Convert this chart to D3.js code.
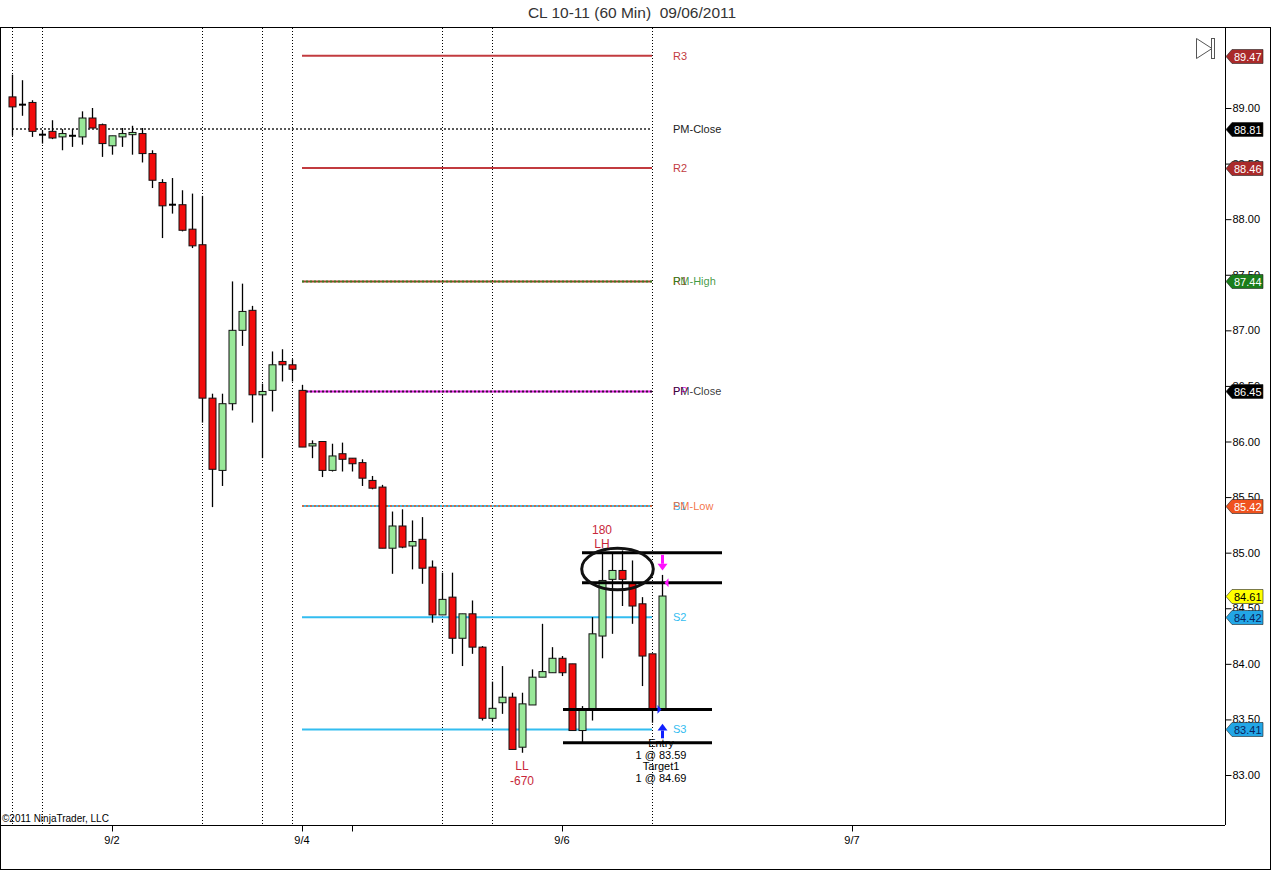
<!DOCTYPE html>
<html>
<head>
<meta charset="utf-8">
<script src="https://cdn.jsdelivr.net/npm/d3@7"></script>
<style>
    html, body { margin: 0; padding: 0; background: #fff; }
    svg text { font-family: Arial, "Liberation Sans", sans-serif; }
</style>
</head>
<body>
<svg id="chart" width="1272" height="871"></svg>
<script>
// 60 min bars, 9/1 evening through 9/6
const opens  = [89.10, 89.03, 89.05, 88.76, 88.79, 88.74, 88.75, 88.74, 88.91, 88.85, 88.66, 88.74, 88.76, 88.77, 88.59, 88.33, 88.13, 88.13, 87.91, 87.77,
                86.39, 85.74, 86.34, 87.00, 87.18, 86.42, 86.46, 86.72, 86.69, 86.46, 85.96, 86.00, 85.74, 85.89, 85.85, 85.81, 85.65, 85.59, 85.04, 85.24,
                85.06, 85.12, 84.87, 84.44, 84.60, 84.23, 84.45, 84.15, 83.51, 83.65, 83.70, 83.25, 83.63, 83.88, 83.92, 84.05, 84.00, 83.40, 83.59, 84.25,
                84.76, 84.84, 84.73, 84.54, 84.09, 83.59];
const highs  = [89.30, 89.25, 89.07, 88.80, 88.89, 88.81, 88.81, 88.97, 89.00, 88.86, 88.75, 88.82, 88.84, 88.82, 88.62, 88.36, 88.37, 88.26, 88.23, 88.21,
                86.43, 86.43, 87.44, 87.42, 87.22, 86.52, 86.81, 86.83, 86.74, 86.51, 86.01, 86.00, 85.98, 85.99, 85.85, 85.84, 85.69, 85.61, 85.37, 85.39,
                85.29, 85.32, 84.93, 84.82, 84.82, 84.45, 84.57, 84.16, 83.84, 83.98, 83.74, 83.74, 83.95, 84.36, 84.15, 84.07, 84.00, 83.62, 84.42, 85.00,
                85.00, 85.02, 84.93, 84.60, 84.09, 84.80];
const lows   = [88.75, 88.93, 88.74, 88.68, 88.72, 88.62, 88.65, 88.67, 88.82, 88.56, 88.58, 88.65, 88.58, 88.51, 88.28, 87.83, 88.05, 87.89, 87.74, 86.17,
                85.41, 85.60, 86.28, 86.86, 86.17, 85.85, 86.27, 86.54, 86.54, 85.95, 85.85, 85.68, 85.73, 85.73, 85.73, 85.60, 85.57, 85.04, 84.81, 85.04,
                84.85, 84.72, 84.37, 84.44, 84.09, 83.98, 84.09, 83.49, 83.48, 83.55, 83.23, 83.20, 83.63, 83.88, 83.92, 83.89, 83.40, 83.29, 83.49, 84.05,
                84.27, 84.52, 84.36, 83.80, 83.47, 83.59];
const closes = [89.01, 89.03, 88.79, 88.76, 88.73, 88.77, 88.75, 88.91, 88.82, 88.68, 88.75, 88.77, 88.78, 88.59, 88.35, 88.12, 88.13, 87.90, 87.76, 86.39,
                85.75, 86.34, 87.00, 87.17, 86.42, 86.45, 86.69, 86.69, 86.65, 85.95, 85.98, 85.74, 85.87, 85.84, 85.80, 85.67, 85.58, 85.04, 85.24, 85.05,
                85.10, 84.86, 84.44, 84.58, 84.23, 84.45, 84.15, 83.51, 83.60, 83.70, 83.23, 83.64, 83.88, 83.93, 84.05, 83.92, 83.40, 83.59, 84.27, 84.75,
                84.84, 84.76, 84.52, 84.07, 83.59, 84.61];

// session break bars (dotted verticals)
const sessionBreaks = [0, 3, 19, 25, 28, 43, 48, 64];

// date axis
const dateLabels = ['9/2', '9/4', '', '9/6', '9/7'];
const dateBars = [10, 29, 34, 55, 84];

// price axis ticks
const priceTicks = [83.0, 83.5, 84.0, 84.5, 85.0, 85.5, 86.0, 86.5, 87.0, 87.5, 88.0, 88.5, 89.0];

// pivot / prior day levels
const levelNames  = ['R3', 'R2', 'R1', 'PP', 'S1', 'S2', 'S3'];
const levelValues = [89.47, 88.46, 87.44, 86.45, 85.42, 84.42, 83.41];
const levelColors = ['#c23b3f', '#c23b3f', '#a0442a', '#e020e0', '#3bb8e8', '#33bdf0', '#33bdf0'];
const priorNames  = ['PM-Close', 'PM-High', 'PM-Close', 'PM-Low'];
const priorValues = [88.81, 87.44, 86.45, 85.42];
const priorColors = ['#222222', '#1f8a1f', '#111111', '#f05a1e'];

// right axis price markers
const tagValues = [89.47, 88.81, 88.46, 87.44, 86.45, 85.42, 84.61, 84.42, 83.41];
const tagFills  = ['#aa2a2a', '#000000', '#aa2a2a', '#1b7d1b', '#000000', '#f0521e', '#ffff00', '#22a6e6', '#22a6e6'];
const tagInk    = ['#fff', '#fff', '#fff', '#fff', '#fff', '#fff', '#000', '#0a1f5c', '#0a1f5c'];

// hand drawn lines: [barFrom, barTo, price]
const drawnLines = [[57, 71, 85.00], [57, 71, 84.73], [55.1, 70, 83.59], [55.1, 70, 83.29]];
const circleMark = {bar: 60.55, price: 84.853, rxBars: 3.58, ryPrice: 0.187};

const swingLabels = [['180', 59, 85.20], ['LH', 59, 85.08], ['LL', 51, 83.08], ['-670', 51, 82.95]];
const tradeLabels = ['Entry', '1 @ 83.59', 'Target1', '1 @ 84.69'];
const tradeLabelPrices = [83.29, 83.18, 83.08, 82.97];

const svg = d3.select('#chart');
const plotRight = 1225, plotTop = 27, plotBottom = 825;

const x = d3.scaleLinear().domain([-1.2, 121.3]).range([0, plotRight]);
const y = d3.scaleLinear().domain([83, 89]).range([775, 108]);

// title
svg.append('text')
    .attr('x', 632).attr('y', 18)
    .attr('text-anchor', 'middle')
    .style('font-size', '15.5px')
    .style('fill', '#333')
    .text('CL 10-11 (60 Min)\u00a0\u00a009/06/2011');

// frame
svg.append('rect')
    .attr('x', 0.5).attr('y', plotTop + 0.5)
    .attr('width', 1270).attr('height', 842)
    .attr('fill', 'none').attr('stroke', '#000');
svg.append('line')
    .attr('x1', plotRight + 0.5).attr('x2', plotRight + 0.5)
    .attr('y1', plotTop).attr('y2', plotBottom)
    .attr('stroke', '#000');
svg.append('line')
    .attr('x1', 0).attr('x2', plotRight)
    .attr('y1', plotBottom + 0.5).attr('y2', plotBottom + 0.5)
    .attr('stroke', '#000');

// session separators
svg.append('g').selectAll('line')
    .data(sessionBreaks)
    .enter()
    .append('line')
    .attr('x1', d => Math.round(x(d)) + 0.5)
    .attr('x2', d => Math.round(x(d)) + 0.5)
    .attr('y1', plotTop + 1)
    .attr('y2', plotBottom)
    .attr('stroke', '#000')
    .attr('stroke-width', 1)
    .attr('stroke-dasharray', '1,2');

// date axis
const dateAxis = svg.append('g').attr('transform', `translate(0,${plotBottom + 0.5})`);
dateAxis.selectAll('line')
    .data(dateBars)
    .enter()
    .append('line')
    .attr('x1', d => Math.round(x(d)) + 0.5)
    .attr('x2', d => Math.round(x(d)) + 0.5)
    .attr('y1', 0).attr('y2', 6)
    .attr('stroke', '#000');
dateAxis.selectAll('text')
    .data(dateBars)
    .enter()
    .append('text')
    .attr('x', d => x(d))
    .attr('y', 18)
    .attr('text-anchor', 'middle')
    .style('font-size', '11px')
    .text((d, i) => dateLabels[i]);

// price axis
const priceAxis = svg.append('g')
    .attr('transform', `translate(${plotRight + 0.5},0)`)
    .call(d3.axisRight(y).tickValues(priceTicks).tickSize(6).tickPadding(1).tickFormat(d3.format('.2f')));
priceAxis.select('.domain').remove();
priceAxis.selectAll('text').style('font-size', '11px').style('font-family', 'Arial, "Liberation Sans", sans-serif');

svg.append('text')
    .attr('x', 2).attr('y', 822)
    .style('font-size', '10px')
    .text('\u00a92011 NinjaTrader, LLC');

// level lines
const levelStart = 29, levelEnd = 64;
const levels = svg.append('g');
levels.selectAll('line.level')
    .data(levelValues)
    .enter()
    .append('line')
    .classed('level', true)
    .attr('x1', x(levelStart)).attr('x2', x(levelEnd))
    .attr('y1', d => y(d)).attr('y2', d => y(d))
    .attr('stroke', (d, i) => levelColors[i])
    .attr('stroke-width', 2);
levels.selectAll('line.prior')
    .data(priorValues)
    .enter()
    .append('line')
    .classed('prior', true)
    .attr('x1', (d, i) => i === 0 ? x(0) : x(levelStart))
    .attr('x2', x(levelEnd))
    .attr('y1', d => y(d)).attr('y2', d => y(d))
    .attr('stroke', (d, i) => priorColors[i])
    .attr('stroke-width', 2)
    .attr('stroke-dasharray', '2,2')
    .attr('stroke-opacity', (d, i) => i === 0 ? 0.75 : 0.8);
// pivot and prior-day labels share a spot, the way the platform prints them
levels.selectAll('text.level')
    .data(levelValues)
    .enter()
    .append('text')
    .classed('level', true)
    .attr('x', x(levelEnd) + 21)
    .attr('y', d => y(d) + 4)
    .style('font-size', '11px')
    .style('fill', (d, i) => levelColors[i])
    .text((d, i) => levelNames[i]);
levels.selectAll('text.prior')
    .data(priorValues)
    .enter()
    .append('text')
    .classed('prior', true)
    .attr('x', x(levelEnd) + 21)
    .attr('y', d => y(d) + 4)
    .style('font-size', '11px')
    .style('fill', (d, i) => priorColors[i])
    .style('fill-opacity', (d, i) => i === 0 ? 1 : 0.85)
    .text((d, i) => priorNames[i]);

// candles
const bars = d3.range(opens.length).map(i => ({i, o: opens[i], h: highs[i], l: lows[i], c: closes[i]}));
const candles = svg.append('g').selectAll('g')
    .data(bars)
    .enter()
    .append('g');
candles.append('line')
    .attr('x1', d => Math.round(x(d.i)) + 0.5)
    .attr('x2', d => Math.round(x(d.i)) + 0.5)
    .attr('y1', d => y(d.h))
    .attr('y2', d => y(d.l))
    .attr('stroke', '#000')
    .attr('stroke-width', 1.3);
candles.each(function(d) {
    const g = d3.select(this);
    const cx = Math.round(x(d.i)) + 0.5;
    const top = y(Math.max(d.o, d.c));
    const bot = y(Math.min(d.o, d.c));
    if (Math.abs(d.o - d.c) < 0.005) {
        g.append('line')
            .attr('x1', cx - 3.5).attr('x2', cx + 3.5)
            .attr('y1', top).attr('y2', top)
            .attr('stroke', '#000')
            .attr('stroke-width', 2);
    } else {
        g.append('rect')
            .attr('x', cx - 3.5)
            .attr('y', top)
            .attr('width', 7)
            .attr('height', Math.max(bot - top, 2))
            .attr('fill', d.c > d.o ? '#98e898' : '#f20c0c')
            .attr('stroke', '#111')
            .attr('stroke-width', 1);
    }
});

// hand drawn lines and circle
const marks = svg.append('g');
marks.selectAll('line')
    .data(drawnLines)
    .enter()
    .append('line')
    .attr('x1', d => x(d[0])).attr('x2', d => x(d[1]))
    .attr('y1', d => y(d[2])).attr('y2', d => y(d[2]))
    .attr('stroke', '#000')
    .attr('stroke-width', 3);
marks.append('ellipse')
    .attr('cx', x(circleMark.bar))
    .attr('cy', y(circleMark.price))
    .attr('rx', x(circleMark.rxBars) - x(0))
    .attr('ry', y(0) - y(circleMark.ryPrice))
    .attr('fill', 'none')
    .attr('stroke', '#111')
    .attr('stroke-width', 3);

svg.append('g').selectAll('text')
    .data(swingLabels)
    .enter()
    .append('text')
    .attr('x', d => x(d[1]))
    .attr('y', d => y(d[2]) + 4)
    .attr('text-anchor', 'middle')
    .style('font-size', '12px')
    .style('fill', '#c8283a')
    .text(d => d[0]);

// trade markers on the last bar
const lastBar = opens.length - 1;
const ax = Math.round(x(lastBar)) + 0.5;
const sell = svg.append('g').attr('fill', '#ff10ff');
sell.append('rect')
    .attr('x', ax - 1.5).attr('y', y(84.98)).attr('width', 3).attr('height', y(84.90) - y(84.98));
sell.append('path')
    .attr('d', `M${ax - 5},${y(84.90)}L${ax + 5},${y(84.90)}L${ax},${y(84.84)}Z`);
sell.append('path')
    .attr('d', `M${ax + 2},${y(84.73)}L${ax + 6},${y(84.77)}L${ax + 6},${y(84.69)}Z`);
const buy = svg.append('g').attr('fill', '#1020ff');
buy.append('path')
    .attr('d', `M${ax - 5},${y(83.40)}L${ax + 5},${y(83.40)}L${ax},${y(83.46)}Z`);
buy.append('rect')
    .attr('x', ax - 1.5).attr('y', y(83.40)).attr('width', 3).attr('height', y(83.33) - y(83.40));
buy.append('path')
    .attr('d', `M${ax - 5},${y(83.63)}L${ax - 1},${y(83.59)}L${ax - 5},${y(83.55)}Z`);

svg.append('g').selectAll('text')
    .data(tradeLabels)
    .enter()
    .append('text')
    .attr('x', x(lastBar) - 1)
    .attr('y', (d, i) => y(tradeLabelPrices[i]) + 4)
    .attr('text-anchor', 'middle')
    .style('font-size', '11px')
    .text(d => d);

// price markers on the right axis
const tags = svg.append('g').selectAll('g')
    .data(tagValues)
    .enter()
    .append('g')
    .attr('transform', d => `translate(${plotRight + 1},${Math.round(y(d)) + 0.5})`);
tags.append('path')
    .attr('d', 'M0,0L6,-7L37,-7L37,7L6,7Z')
    .attr('fill', (d, i) => tagFills[i])
    .attr('stroke', '#222')
    .attr('stroke-width', 0.6);
tags.append('text')
    .attr('x', 8).attr('y', 4)
    .style('font-size', '11px')
    .style('fill', (d, i) => tagInk[i])
    .text(d => d3.format('.2f')(d));

// scroll-to-end icon
const icon = svg.append('g').attr('fill', 'none').attr('stroke', '#555');
icon.append('path').attr('d', 'M1196.5,38.5L1196.5,58.5L1212,48.5Z');
icon.append('rect').attr('x', 1211.5).attr('y', 38.5).attr('width', 3).attr('height', 20);
</script>
</body>
</html>
